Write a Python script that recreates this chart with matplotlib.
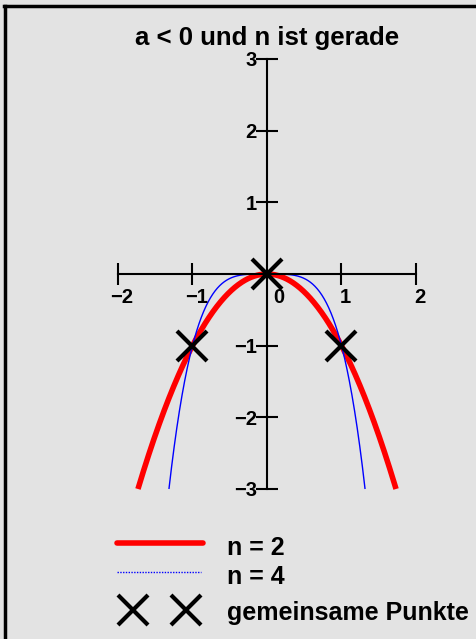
import numpy as np
import matplotlib
matplotlib.use("Agg")
import matplotlib.pyplot as plt
from matplotlib.lines import Line2D

plt.rcParams['font.family'] = ['Liberation Sans', 'DejaVu Sans']
plt.rcParams['font.weight'] = 'bold'

title = "a < 0 und n ist gerade"
a = -1.0
exponents = [2, 4]
labels = ["n = 2", "n = 4"]
colors = ["#ff0000", "#0000ff"]
widths = [4.0, 1.0]
common_x = [-1, 0, 1]
common_y = [-1, 0, -1]
xticks = [-2, -1, 1, 2]
yticks = [-3, -2, -1, 1, 2, 3]
legend_common = "gemeinsame Punkte"

W, H = 477, 639
fig = plt.figure(figsize=(W/100, H/100), dpi=100)
bg = "#e3e3e3"
fig.patch.set_facecolor(bg)

# axes placed so that x -2..2 -> px 118..416, y 3..-3 -> px 59..489
x0, x1 = 118, 416
yt, yb = 59, 489
ax = fig.add_axes([x0/W, 1 - yb/H, (x1-x0)/W, (yb-yt)/H])
ax.set_xlim(-2, 2)
ax.set_ylim(-3, 3)
ax.patch.set_visible(False)

for s in ['top', 'right']:
    ax.spines[s].set_visible(False)
ax.spines['left'].set_position('zero')
ax.spines['bottom'].set_position('zero')
ax.spines['left'].set_linewidth(1.5)
ax.spines['bottom'].set_linewidth(1.5)
ax.set_xticks(xticks)
ax.set_yticks(yticks)
ax.tick_params(direction='inout', length=16, width=1.5, labelbottom=False, labelleft=False)

fs = 14.5
for t in xticks:
    ax.annotate(str(t).replace('-', '\u2212'), (t, 0), xytext=(4, -14), textcoords='offset pixels',
                ha='center', va='top', fontsize=fs, fontweight='bold')
ax.annotate("0", (0, 0), xytext=(12, -14), textcoords='offset pixels',
            ha='center', va='top', fontsize=fs, fontweight='bold')
for t in yticks:
    ax.annotate(str(t).replace('-', '\u2212'), (0, t), xytext=(-10, -2), textcoords='offset pixels',
                ha='right', va='center', fontsize=fs, fontweight='bold')

for n, c, lw in zip(exponents, colors, widths):
    xm = (3 / -a) ** (1.0 / n)
    xs = np.linspace(-xm, xm, 600)
    ax.plot(xs, a * xs ** n, color=c, lw=lw, clip_on=False, solid_capstyle='butt')

ax.plot(common_x, common_y, linestyle='none', marker='x', markersize=22,
        markeredgewidth=3, color='black', clip_on=False)

fig.text(267/W, 1 - 38/H, title, ha='center', va='center', fontsize=18.5, fontweight='bold')

# legend
def fx(px): return px / W
def fy(py): return 1 - py / H
fig.add_artist(Line2D([fx(117), fx(203)], [fy(543), fy(543)], color=colors[0], lw=4, solid_capstyle='round'))
fig.add_artist(Line2D([fx(117), fx(201)], [fy(572), fy(572)], color=colors[1], lw=1, linestyle=(0, (1, 1))))
for px in [133, 186]:
    fig.add_artist(Line2D([fx(px)], [fy(610)], marker='x', markersize=22, markeredgewidth=3, color='black'))
lfs = 18
fig.text(fx(227), fy(555), labels[0], ha='left', va='baseline', fontsize=lfs, fontweight='bold')
fig.text(fx(227), fy(584), labels[1], ha='left', va='baseline', fontsize=lfs, fontweight='bold')
fig.text(fx(227), fy(620), legend_common, ha='left', va='baseline', fontsize=lfs, fontweight='bold')

# frame lines (left and top)
fig.add_artist(Line2D([fx(5.5), fx(5.5)], [fy(6), fy(639)], color='black', lw=2.5))
fig.add_artist(Line2D([fx(4.5), fx(477)], [fy(6), fy(6)], color='black', lw=2.5))

fig.savefig("out.png", dpi=100, facecolor=bg)
